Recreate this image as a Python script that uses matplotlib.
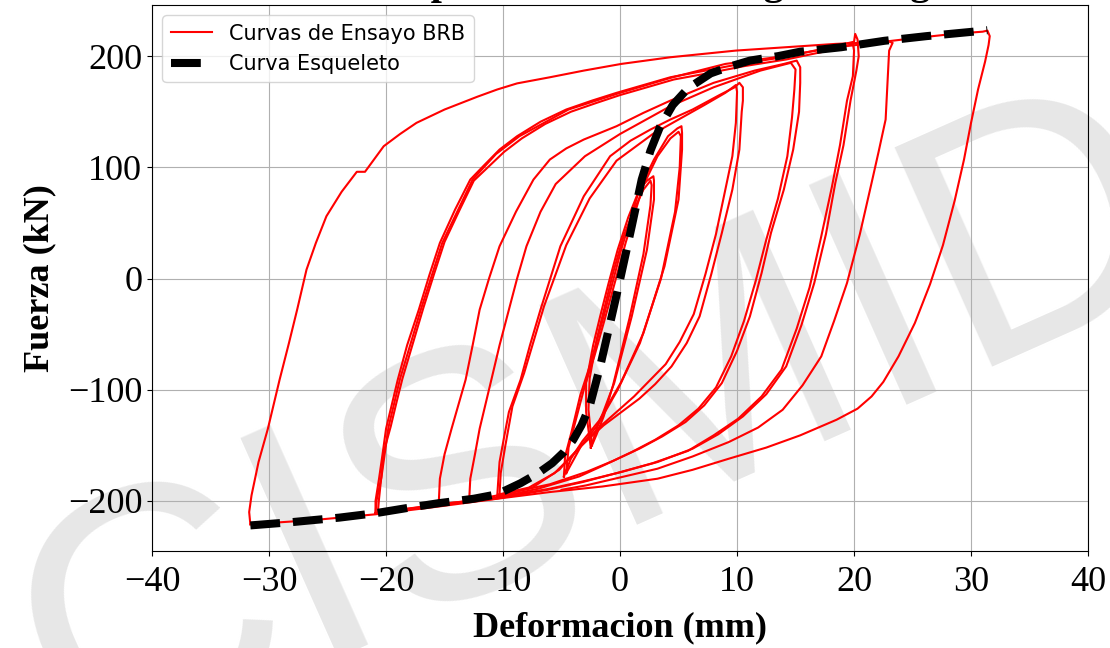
import numpy as np
import matplotlib
matplotlib.use("Agg")
import matplotlib.pyplot as plt

# Ciclos de ensayo BRB: deformacion (mm) y fuerza (kN)
# ciclos de +/-2.5 mm
c1_x = [-2.5, -2.9, -2.9, -2.3, -1.7, -1.0, -0.2, 0.7, 1.65, 2.3, 2.85, 2.9, 2.9, 2.3, 1.0, -0.5, -1.5, -2.0, -2.5]
c1_y = [-152, -120, -94, -60, -34, -5, 26, 55, 80, 88, 92, 88, 71, 26, -34, -94, -122, -135, -152]
c1b_x = [-2.4, -2.7, -2.6, -2.0, -1.3, -0.6, 0.3, 1.2, 2.0, 2.6, 2.7, 2.6, 2.0, 0.8, -0.6, -1.4, -2.0, -2.4]
c1b_y = [-150, -118, -90, -55, -25, 5, 38, 62, 80, 88, 84, 66, 22, -36, -96, -124, -140, -150]

# ciclos de +/-5 mm
c2_x = [-4.8, -4.7, -4.15, -3.4, -2.6, -1.4, 0.1, 1.65, 2.9, 4.1, 4.9, 5.25, 5.3, 5.3, 5.0, 3.8, 2.0, 0.1, -1.8, -3.2, -4.2, -4.8]
c2_y = [-178, -160, -138, -105, -79, -34, 26, 80, 107, 128, 135, 137, 131, 116, 71, 11, -49, -93, -128, -146, -162, -178]
c2b_x = [-4.6, -4.4, -3.8, -3.0, -2.2, -1.0, 0.5, 2.0, 3.2, 4.3, 5.0, 5.2, 5.1, 4.7, 3.5, 1.7, -0.2, -2.0, -3.3, -4.6]
c2b_y = [-175, -152, -128, -96, -70, -25, 33, 84, 110, 126, 132, 128, 100, 60, 0, -58, -100, -133, -150, -175]

# ciclos de +/-10 mm
c3_x = [-10.5, -10.4, -10.3, -9.9, -9.5, -8.5, -7.7, -6.8, -5.1, -3.1, -0.85, 0.9, 2.6, 4.3, 6.2, 8.5, 9.8, 10.2, 10.5, 10.5, 10.4, 10.2, 9.6, 8.7, 7.8, 6.8, 5.7, 4.4, 3.0, 1.65, -1.4, -3.5, -5.2, -7.5, -10.5]
c3_y = [-196, -180, -165, -142, -120, -91, -60, -28, 29, 74, 110, 124, 134, 143, 152, 165, 172, 176, 172, 160, 150, 116, 80, 41, 4, -34, -58, -79, -95, -108, -132, -152, -172, -188, -196]
c3b_x = [-10.3, -10.2, -9.8, -9.2, -8.2, -6.5, -4.6, -2.6, -0.3, 2.8, 5.0, 7.2, 9.0, 9.9, 10.0, 9.9, 9.6, 8.9, 8.2, 7.3, 6.3, 5.1, 3.9, 1.2, -1.8, -3.8, -5.6, -7.8, -10.3]
c3b_y = [-194, -175, -150, -115, -85, -25, 30, 72, 106, 130, 143, 156, 167, 174, 168, 140, 110, 75, 40, 4, -32, -57, -77, -106, -134, -156, -175, -188, -194]

# ciclos de +/-15 mm
c4_x = [-15.5, -15.4, -15.0, -14.4, -13.8, -13.2, -12.6, -12.0, -11.2, -10.3, -8.9, -7.4, -6.0, -4.6, -3.1, -0.3, 2.0, 4.3, 8.0, 11.5, 14.0, 15.1, 15.4, 15.4, 15.3, 14.8, 14.0, 12.9, 12.1, 11.1, 10.0, 8.7, 7.2, 5.6, 3.6, 1.65, -0.6, -2.9, -6.0, -10.0, -12.9]
c4_y = [-203, -180, -158, -135, -113, -91, -60, -28, 0, 29, 60, 89, 107, 117, 125, 137, 149, 160, 176, 187, 193, 196, 190, 176, 150, 116, 80, 41, 5, -34, -65, -94, -114, -129, -142, -153, -164, -174, -185, -194, -200]
c4b_x = [-12.9, -12.8, -12.4, -12.0, -11.5, -11.0, -10.3, -9.5, -8.8, -8.0, -6.8, -5.5, -3.0, 0.0, 4.3, 8.0, 12.0, 14.6, 15.0, 14.9, 14.7, 14.3, 13.5, 12.5, 11.6, 10.6, 9.5, 8.2, 6.7, 5.0, 3.0, 1.0, -1.2, -3.5, -7.0, -11.0, -15.5]
c4b_y = [-200, -180, -158, -135, -113, -91, -60, -28, 0, 29, 60, 85, 110, 130, 155, 172, 187, 194, 188, 170, 145, 110, 72, 35, -2, -38, -70, -98, -117, -132, -145, -156, -167, -178, -189, -198, -203]

# ciclos de +/-20 mm
c5_x = [-20.9, -20.9, -20.6, -20.3, -20.0, -19.5, -19.0, -18.2, -17.2, -16.3, -15.4, -14.1, -12.8, -11.7, -10.3, -8.8, -6.8, -4.6, -2.4, -0.3, 2.0, 4.3, 6.8, 10.3, 13.9, 18.0, 20.0, 20.1, 20.3, 20.4, 20.2, 19.7, 19.1, 18.4, 17.6, 16.6, 15.5, 14.2, 12.5, 10.5, 8.4, 6.2, 3.2, 0.1, -3.0, -6.0, -10.5, -15.5, -20.9]
c5_y = [-211, -200, -180, -158, -135, -113, -91, -60, -28, 3, 32, 62, 89, 101, 116, 128, 141, 152, 160, 167, 174, 181, 186, 193, 199, 208, 213, 220, 215, 200, 187, 160, 120, 86, 40, -4, -42, -79, -104, -124, -140, -153, -165, -174, -182, -189, -197, -203, -211]
c5b_x = [-20.7, -20.6, -20.4, -20.2, -19.6, -19.1, -18.6, -17.7, -16.8, -15.9, -15.0, -13.7, -12.5, -11.3, -9.9, -8.4, -6.4, -4.2, -2.0, 0.0, 2.3, 4.6, 7.2, 10.6, 14.2, 18.3, 19.9, 20.0, 19.9, 19.4, 18.8, 18.1, 17.2, 16.2, 15.1, 13.8, 12.1, 10.1, 8.0, 5.8, 2.8, -0.3, -3.2, -6.2, -10.6, -15.6, -20.7]
c5b_y = [-210, -198, -178, -156, -133, -111, -90, -58, -26, 4, 33, 62, 88, 100, 114, 126, 139, 150, 158, 165, 172, 179, 184, 191, 197, 206, 211, 205, 182, 160, 120, 82, 38, -8, -45, -82, -106, -126, -141, -155, -166, -175, -183, -190, -198, -204, -210]

# ciclo final hasta +31 / -31 mm
c6_x = [-20.9, -20.8, -20.4, -19.8, -18.8, -17.0, -15.2, -12.6, -10.6, -8.6, -4.4, 0.0, 4.5, 9.0, 14.0, 18.5, 21.0, 25.0, 28.5, 31.0, 31.4, 31.6, 31.5, 31.2, 30.6, 30.0, 29.4, 28.6, 27.6, 26.5, 25.2, 23.8, 22.5, 21.5, 20.3, 18.5, 15.4, 12.5, 9.3, 6.2, 3.2, -1.5, -6.0, -10.5, -15.5, -20.9, -26.0, -31.6]
c6_y = [-211, -199, -179, -134, -90, -27, 32, 89, 112, 128, 152, 167, 181, 193, 200, 208, 211, 216, 220, 222, 223, 218, 210, 195, 170, 140, 107, 70, 30, -5, -40, -70, -93, -106, -117, -127, -141, -152, -162, -172, -180, -187, -192, -198, -205, -212, -217, -221]

# recarga desde -31 mm hasta +23 mm y descarga
c7_x = [-31.6, -31.7, -31.5, -30.9, -30.1, -29.1, -28.3, -27.6, -26.8, -26.0, -25.1, -23.8, -22.5, -21.8, -20.2, -18.8, -17.4, -15.0, -12.2, -10.5, -8.8, -6.0, -3.1, 0.1, 4.3, 9.9, 18.4, 23.0, 23.3, 23.0, 22.7, 22.1, 21.5, 20.5, 19.4, 18.3, 17.2, 15.6, 13.9, 11.8, 9.3, 6.2, 3.2, -2.9, -5.0]
c7_y = [-221, -210, -195, -165, -135, -91, -58, -28, 8, 32, 56, 78, 96, 96, 119, 130, 140, 152, 163.5, 170, 175.5, 181, 187, 193, 199, 205, 211, 213, 212, 205, 143, 114, 86, 40, -4, -38, -70, -96, -118, -134, -147, -160, -171, -186, -190]

ciclos = [(c1_x, c1_y), (c1b_x, c1b_y), (c2_x, c2_y), (c2b_x, c2b_y),
          (c3_x, c3_y), (c3b_x, c3b_y), (c4_x, c4_y), (c4b_x, c4b_y),
          (c5_x, c5_y), (c5b_x, c5b_y), (c6_x, c6_y), (c7_x, c7_y)]

# curva esqueleto (envolvente)
esq_x = [-31.6, -28, -24, -20.9, -18, -15.5, -12.5, -10.5, -8.5, -7, -5.8, -4.8, -4.0, -3.3, -2.6, -1.7, -0.8, 0.0, 1.0, 1.85, 2.6, 3.4, 4.5, 5.8, 7.75, 9.5, 11.1, 13.5, 15.4, 18.9, 22.6, 26.2, 30.0, 31.4]
esq_y = [-222, -219, -215, -211, -206, -202, -198, -194, -184, -175, -166, -156, -145, -132, -115, -79, -38, -1, 47, 89, 115, 136, 156, 171, 184.5, 191, 196, 200, 204, 208, 213.8, 218, 221.8, 223.3]

plt.rcParams['font.family'] = 'serif'
plt.rcParams['font.serif'] = ['Liberation Serif', 'DejaVu Serif']

fig = plt.figure(figsize=(11.1, 6.48), dpi=100)
ax = fig.add_axes([0.137, 0.1497, 0.9802 - 0.137, 0.9923 - 0.1497])
ax.set_facecolor('none')

# marca de agua
fig.text(0.5405, 0.329, "CISMID", fontsize=252, color='#e7e7e7', rotation=24,
         ha='center', va='center', family='Liberation Sans', zorder=-1)

for i, (xs, ys) in enumerate(ciclos):
    ax.plot(xs, ys, color='red', lw=1.5,
            label='Curvas de Ensayo BRB' if i == 0 else None)

ax.plot(esq_x, esq_y, 'k--', lw=5.8, label='Curva Esqueleto')

ax.set_xlim(-40, 40)
ax.set_ylim(-245, 246)
ax.set_xticks(np.arange(-40, 41, 10))
ax.set_yticks([-200, -100, 0, 100, 200])
ax.tick_params(labelsize=26)
ax.tick_params(axis='x', pad=7)
ax.grid(True)
ax.set_xlabel('Deformacion (mm)', fontsize=26, fontweight='bold', labelpad=9)
ax.set_ylabel('Fuerza (kN)', fontsize=26, fontweight='bold', labelpad=8)

fig.text(701 / 1110, 1 + 6 / 648, 'Comportamiento con Rigidez Degradada',
         ha='center', va='baseline', fontsize=29, fontweight='bold')

ax.legend(loc='upper left', prop={'family': 'DejaVu Sans', 'size': 15})

fig.savefig('out.png', dpi=100)
